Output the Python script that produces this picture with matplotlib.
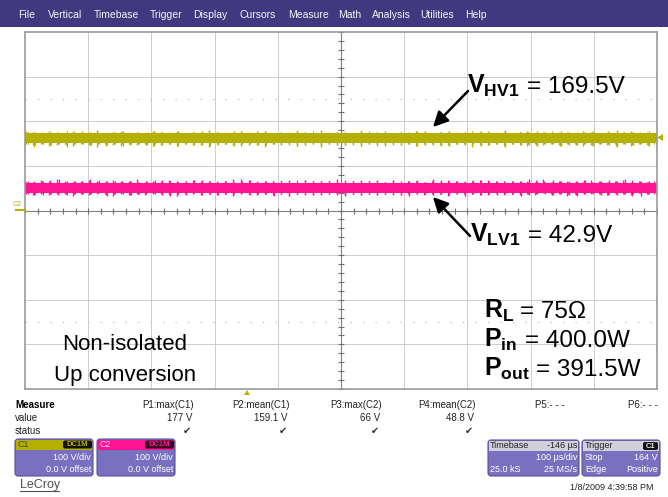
import numpy as np
import matplotlib
matplotlib.use("Agg")
import matplotlib.pyplot as plt
from matplotlib.patches import FancyBboxPatch, Rectangle, Polygon

plt.rcParams['font.family'] = ['Liberation Sans', 'DejaVu Sans']
plt.rcParams['mathtext.fontset'] = 'custom'
plt.rcParams['mathtext.rm'] = 'Liberation Sans'
plt.rcParams['mathtext.bf'] = 'Liberation Sans:bold'
plt.rcParams['mathtext.it'] = 'Liberation Sans:italic'

# ---- data ----
menu_items = ["File", "Vertical", "Timebase", "Trigger", "Display", "Cursors",
              "Measure", "Math", "Analysis", "Utilities", "Help"]
menu_x = [18, 48, 94, 150, 193, 240, 288, 338, 372, 420, 465]

meas_names = ["P1:max(C1)", "P2:mean(C1)", "P3:max(C2)", "P4:mean(C2)", "P5:- - -", "P6:- - -"]
meas_values = ["177 V", "159.1 V", "66 V", "48.8 V", "", ""]
meas_ok = [True, True, True, True, False, False]
meas_right = [194, 290, 382, 476, 565, 658]

# volts, 100 V/div, 0 V offset; time 100 us/div
c1_core = (151, 173)
c1_upper = [175, 177, 174, 179, 176, 174, 178, 175, 177, 180, 174, 176, 178, 175, 177, 174, 179, 176, 175, 178,
            174, 177, 176, 180, 175, 174, 177, 178, 175, 176, 179, 174, 177, 175, 178, 176, 174, 180, 175, 177,
            176, 174, 178, 175, 177, 179, 174, 176, 175, 178, 177, 174, 176, 179, 175, 177, 174, 178, 176, 175,
            180, 174, 177, 176, 178, 175, 174, 179, 176, 177, 175, 178, 174, 176, 180, 175, 177, 174, 178, 176]
c1_lower = [148, 146, 149, 144, 147, 149, 145, 148, 146, 143, 149, 147, 145, 148, 146, 149, 144, 147, 148, 145,
            149, 146, 147, 142, 148, 149, 146, 145, 148, 147, 144, 149, 146, 148, 145, 147, 149, 143, 148, 146,
            147, 149, 145, 148, 146, 144, 149, 147, 148, 145, 146, 149, 147, 144, 148, 146, 149, 145, 147, 148,
            143, 149, 146, 147, 145, 148, 149, 144, 147, 146, 148, 145, 149, 147, 142, 148, 146, 149, 145, 147]

c2_core = (40, 62)
c2_upper = [66, 64, 68, 65, 70, 66, 64, 67, 69, 65, 64, 68, 66, 65, 71, 64, 67, 65, 68, 66,
            64, 69, 65, 67, 64, 66, 70, 65, 68, 64, 66, 67, 65, 69, 64, 68, 66, 65, 67, 70,
            64, 66, 68, 65, 69, 64, 67, 66, 65, 68, 64, 70, 66, 65, 67, 64, 68, 69, 65, 66,
            64, 67, 65, 70, 66, 64, 68, 65, 67, 66, 69, 64, 65, 68, 66, 71, 64, 67, 65, 66]
c2_lower = [37, 35, 38, 34, 36, 38, 33, 37, 35, 38, 36, 32, 37, 35, 38, 34, 36, 37, 35, 33,
            38, 36, 34, 37, 35, 38, 32, 36, 37, 34, 38, 35, 36, 33, 37, 38, 35, 34, 36, 37,
            33, 38, 35, 36, 34, 37, 38, 35, 32, 36, 37, 34, 38, 35, 36, 33, 37, 35, 38, 34,
            36, 37, 33, 35, 38, 36, 34, 37, 35, 32, 38, 36, 35, 37, 34, 38, 36, 33, 37, 35]

YEL = '#b5b000'
PINK = '#ff1493'
PANEL = '#7a70c0'
BAR = '#41397f'

W, H = 668, 497
fig = plt.figure(figsize=(W / 100, H / 100), dpi=100)
fig.patch.set_facecolor('white')

# ---- scope grid ----
ax = fig.add_axes([25 / W, 1 - 389 / H, 632 / W, 357 / H])
ax.set_xlim(-500, 500)
ax.set_ylim(-400, 400)
ax.set_xticks([])
ax.set_yticks([])
for s in ax.spines.values():
    s.set_color('#9a9a9a')
    s.set_linewidth(1.2)
for x in range(-400, 500, 100):
    ax.axvline(x, color='#cccccc', lw=0.7, zorder=0)
for y in range(-300, 400, 100):
    ax.axhline(y, color='#cccccc', lw=0.7, zorder=0)
for y in (250, -250):
    ax.axhline(y, color='#b8b8b8', lw=0.9, ls=(0, (1, 9)), zorder=0)
ax.axhline(0, color='#808080', lw=0.8, zorder=1)
ax.axvline(0, color='#808080', lw=0.8, zorder=1)
ax.plot(np.arange(-500, 501, 20), np.zeros(51), ls='none', marker='|', ms=5,
        mew=0.8, color='#707070', zorder=1)
ax.plot(np.zeros(41), np.arange(-400, 401, 20), ls='none', marker='_', ms=5,
        mew=0.8, color='#707070', zorder=1)

# traces: solid core plus the noise needles on both edges
for core, up, lo, col in [(c1_core, c1_upper, c1_lower, YEL),
                          (c2_core, c2_upper, c2_lower, PINK)]:
    up = np.array(up)
    lo = np.array(lo)
    ax.fill_between([-500, 500], [core[0]] * 2, [core[1]] * 2, color=col, lw=0, zorder=2)
    t = np.linspace(-500, 500, len(up))
    ax.vlines(t, lo, up, color=col, lw=1.0, zorder=2)
    t2 = np.linspace(-496, 496, len(up))
    ax.vlines(t2, lo[::-1] + 1, up[::-1] - 1, color=col, lw=0.9, zorder=2)
    t3 = np.linspace(-498, 498, len(up))
    ax.vlines(t3, np.roll(lo, 7) + 1, np.roll(up, 13) - 1, color=col, lw=0.8, zorder=2)

# ---- overlay in pixel coords ----
ui = fig.add_axes([0, 0, 1, 1])
ui.set_xlim(0, W)
ui.set_ylim(H, 0)
ui.axis('off')
ui.patch.set_alpha(0)
ui.set_zorder(5)

ui.add_patch(Rectangle((0, 0), W, 27, color=BAR, lw=0))
for name, x in zip(menu_items, menu_x):
    ui.text(x, 15.5, name, color='#f4f4f4', fontsize=7.5, va='center', ha='left')

# markers
ui.add_patch(Polygon([[657, 137.5], [663, 134], [663, 141]], closed=True, color=YEL, lw=0))
ui.text(13, 205, "C2", color='#c8a400', fontsize=5, va='center', ha='left')
ui.plot([16, 25], [210, 210], color=YEL, lw=1.5)
ui.add_patch(Polygon([[247, 390], [244, 395], [250, 395]], closed=True, color=YEL, lw=0))

# annotations
ui.text(467, 93, r'$\mathbf{V_{HV1}}$', fontsize=18, ha='left', va='baseline')
ui.text(527, 93, '= 169.5V', fontsize=17.5, ha='left', va='baseline')
ui.annotate('', xy=(431, 129), xytext=(470, 89),
            arrowprops=dict(arrowstyle='-|>,head_length=0.9,head_width=0.45', color='black', lw=1.8))
ui.text(470, 242, r'$\mathbf{V_{LV1}}$', fontsize=18, ha='left', va='baseline')
ui.text(528, 242, '= 42.9V', fontsize=17.5, ha='left', va='baseline')
ui.annotate('', xy=(431, 195), xytext=(472, 238),
            arrowprops=dict(arrowstyle='-|>,head_length=0.9,head_width=0.45', color='black', lw=1.8))

ui.text(484, 318, r'$\mathbf{R_L}$', fontsize=18, ha='left', va='baseline')
ui.text(520, 318, '= 75Ω', fontsize=17.5, ha='left', va='baseline')
ui.text(484, 347, r'$\mathbf{P_{in}}$', fontsize=18, ha='left', va='baseline')
ui.text(525, 347, '= 400.0W', fontsize=17.5, ha='left', va='baseline')
ui.text(484, 376, r'$\mathbf{P_{out}}$', fontsize=18, ha='left', va='baseline')
ui.text(536, 376, '= 391.5W', fontsize=17.5, ha='left', va='baseline')

ui.text(125, 350, 'Non-isolated', fontsize=16, ha='center', va='baseline')
ui.text(125, 381, 'Up conversion', fontsize=16, ha='center', va='baseline')

# ---- measure table ----
ui.text(15, 405, 'Measure', fontsize=7, fontweight='bold', va='center')
ui.text(15, 418, 'value', fontsize=7, va='center', color='#222222')
ui.text(15, 431, 'status', fontsize=7, va='center', color='#222222')
for name, val, ok, xr in zip(meas_names, meas_values, meas_ok, meas_right):
    ui.text(xr, 405, name, fontsize=7, ha='right', va='center', color='#222222')
    ui.text(xr - 2, 418, val, fontsize=7, ha='right', va='center', color='#222222')
    if ok:
        ui.text(xr - 3, 431, '\u2714', fontsize=7, ha='right', va='center',
                color='#333333', family='DejaVu Sans')


def panel(x0, x1, y0, y1, head_col):
    ui.add_patch(FancyBboxPatch((x0, y0), x1 - x0, y1 - y0,
                                boxstyle='round,pad=0,rounding_size=3',
                                fc=PANEL, ec='#5a5098', lw=0.8))
    ui.add_patch(Rectangle((x0 + 0.6, y0 + 0.6), x1 - x0 - 1.2, 10, color=head_col, lw=0))


# channel panels
panel(15, 93, 439, 476, YEL)
ui.text(18, 444.5, 'C1', fontsize=6.5, va='center', color='#4a4a2a')
ui.add_patch(FancyBboxPatch((63, 440.5), 29, 8, boxstyle='round,pad=0,rounding_size=2', fc='#111111', lw=0))
ui.text(77.5, 444.5, 'DC1M', fontsize=5.5, ha='center', va='center', color=YEL, fontweight='bold')
ui.text(91, 458, '100 V/div', fontsize=6.5, ha='right', va='center', color='white')
ui.text(91, 470, '0.0 V offset', fontsize=6.5, ha='right', va='center', color='white')

panel(97, 175, 439, 476, PINK)
ui.text(100, 444.5, 'C2', fontsize=6.5, va='center', color='#ffd0e8')
ui.add_patch(FancyBboxPatch((145, 440.5), 29, 8, boxstyle='round,pad=0,rounding_size=2', fc='#3a0a20', lw=0))
ui.text(159.5, 444.5, 'DC1M', fontsize=5.5, ha='center', va='center', color=PINK, fontweight='bold')
ui.text(173, 458, '100 V/div', fontsize=6.5, ha='right', va='center', color='white')
ui.text(173, 470, '0.0 V offset', fontsize=6.5, ha='right', va='center', color='white')

ui.text(20, 485, 'LeCroy', fontsize=9, va='center', color='#505050')
ui.plot([20, 59], [491, 491], color='#505050', lw=0.8)

# timebase / trigger panels
panel(488, 579, 440, 476, '#d2d0dc')
ui.text(490, 446, 'Timebase', fontsize=6.5, va='center', color='#222222')
ui.text(577, 446, '-146 µs', fontsize=6.5, ha='right', va='center', color='#222222')
ui.text(577, 458, '100 µs/div', fontsize=6.5, ha='right', va='center', color='white')
ui.text(490, 470, '25.0 kS', fontsize=6.5, va='center', color='white')
ui.text(577, 470, '25 MS/s', fontsize=6.5, ha='right', va='center', color='white')

panel(582, 660, 440, 476, '#d2d0dc')
ui.text(585, 446, 'Trigger', fontsize=6.5, va='center', color='#222222')
ui.add_patch(FancyBboxPatch((643, 442), 15, 8, boxstyle='round,pad=0,rounding_size=2', fc='#111111', lw=0))
ui.text(650.5, 446, 'C1', fontsize=5.5, ha='center', va='center', color='#e8e8e8', fontweight='bold')
ui.text(585, 458, 'Stop', fontsize=6.5, va='center', color='white')
ui.text(658, 458, '164 V', fontsize=6.5, ha='right', va='center', color='white')
ui.text(585, 470, 'Edge', fontsize=6.5, va='center', color='white')
ui.text(658, 470, 'Positive', fontsize=6.5, ha='right', va='center', color='white')

ui.text(653, 487, '1/8/2009 4:39:58 PM', fontsize=6.5, ha='right', va='center', color='#222222')

fig.savefig('out.png', dpi=100)
